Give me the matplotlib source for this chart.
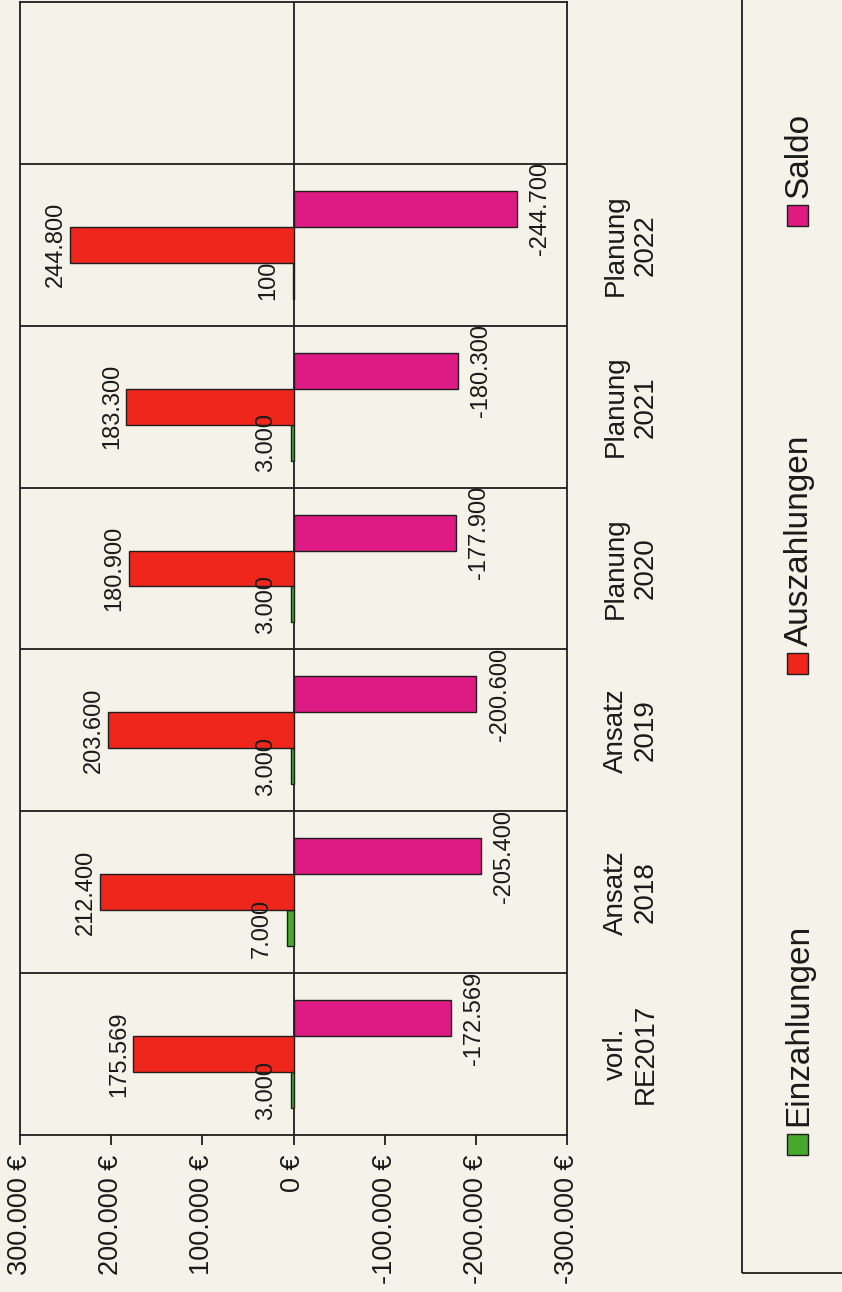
import matplotlib
matplotlib.use("Agg")
import matplotlib.pyplot as plt
from matplotlib.patches import Rectangle

plt.rcParams['font.family'] = ['Liberation Sans', 'DejaVu Sans']

# ---- data ----
categories = ["vorl.\nRE2017", "Ansatz\n2018", "Ansatz\n2019",
              "Planung\n2020", "Planung\n2021", "Planung\n2022"]
series_names = ["Einzahlungen", "Auszahlungen", "Saldo"]
einzahlungen = [3000, 7000, 3000, 3000, 3000, 100]
auszahlungen = [175569, 212400, 203600, 180900, 183300, 244800]
saldo = [-172569, -205400, -200600, -177900, -180300, -244700]
value_ticks = [300000, 200000, 100000, 0, -100000, -200000, -300000]

# ---- style ----
BG = "#f5f2e9"
LINE = "#1e1e1e"
GREEN = "#46a82c"
RED = "#ee261c"
MAGENTA = "#de1a84"
colors = [GREEN, RED, MAGENTA]


def de_fmt(v):
    s = f"{abs(v):,.0f}".replace(",", ".")
    return ("-" + s) if v < 0 else s


W_PX, H_PX = 842, 1292
fig = plt.figure(figsize=(W_PX / 100, H_PX / 100), dpi=100, facecolor=BG)

left, right, bottom, top = 20, 567, 1135, 2
ax = fig.add_axes([left / W_PX, (H_PX - bottom) / H_PX,
                   (right - left) / W_PX, (bottom - top) / H_PX])
ax.set_facecolor(BG)

n_slots = 7  # last slot is empty in the source chart
ax.set_xlim(300000, -300000)
ax.set_ylim(-0.5, n_slots - 0.5)

bw = 0.222
ypos = list(range(len(categories)))
series = [einzahlungen, auszahlungen, saldo]
offsets = [-bw, 0.0, bw]

for vals, col, off in zip(series, colors, offsets):
    ax.barh([y + off for y in ypos], vals, height=bw, color=col,
            edgecolor=LINE, linewidth=1.0, zorder=3)

# separators and zero line
for k in range(n_slots - 1):
    ax.axhline(k + 0.5, color=LINE, lw=1.3, zorder=2)
ax.axvline(0, color=LINE, lw=1.3, zorder=2)

for sp in ax.spines.values():
    sp.set_color(LINE)
    sp.set_linewidth(1.3)

# data labels
lab_fs = 17
for y, v in zip(ypos, einzahlungen):
    ax.annotate(de_fmt(v), xy=(v, y - bw), xytext=(-10, 0), textcoords="offset points",
                rotation=90, ha="right", va="center", fontsize=lab_fs, color="#1a1a1a", zorder=5)
for y, v in zip(ypos, auszahlungen):
    ax.annotate(de_fmt(v), xy=(v, y), xytext=(-2.5, 0), textcoords="offset points",
                rotation=90, ha="right", va="center", fontsize=lab_fs, color="#1a1a1a", zorder=5)
for y, v in zip(ypos, saldo):
    ax.annotate(de_fmt(v), xy=(v, y + bw), xytext=(9, 0), textcoords="offset points",
                rotation=90, ha="left", va="center", fontsize=lab_fs, color="#1a1a1a", zorder=5)

# value axis (bottom)
ax.set_xticks(value_ticks)
ax.set_xticklabels([de_fmt(t) + " €" for t in value_ticks])
ax.tick_params(axis="x", direction="out", length=7, width=1.3, color=LINE,
               labelsize=19.5, labelrotation=90, pad=7, labelcolor="#1a1a1a")

# category axis (right)
ax.yaxis.tick_right()
ax.set_yticks(ypos)
ax.set_yticklabels(categories, rotation=90, ha="left", va="center",
                   multialignment="center", fontsize=20, color="#1a1a1a")
ax.tick_params(axis="y", which="both", length=0, pad=26, left=False, right=False)

# legend (drawn rotated, like the source)
fig.patches.append(Rectangle((742 / W_PX, (H_PX - 1273) / H_PX), 1.0, 1.0,
                             transform=fig.transFigure, fill=False,
                             edgecolor=LINE, linewidth=1.3))
leg_pos = [1144, 663, 215]
for name, col, yc in zip(series_names, colors, leg_pos):
    sq = 21
    fig.patches.append(Rectangle(((797 - sq / 2) / W_PX, (H_PX - yc - sq / 2) / H_PX),
                                 sq / W_PX, sq / H_PX, transform=fig.transFigure,
                                 facecolor=col, edgecolor=LINE, linewidth=1.0))
    fig.text(799 / W_PX, (H_PX - yc + sq / 2 + 7) / H_PX, name, rotation=90,
             ha="center", va="bottom", fontsize=24, color="#1a1a1a")

fig.savefig("out.png", dpi=100, facecolor=BG)
